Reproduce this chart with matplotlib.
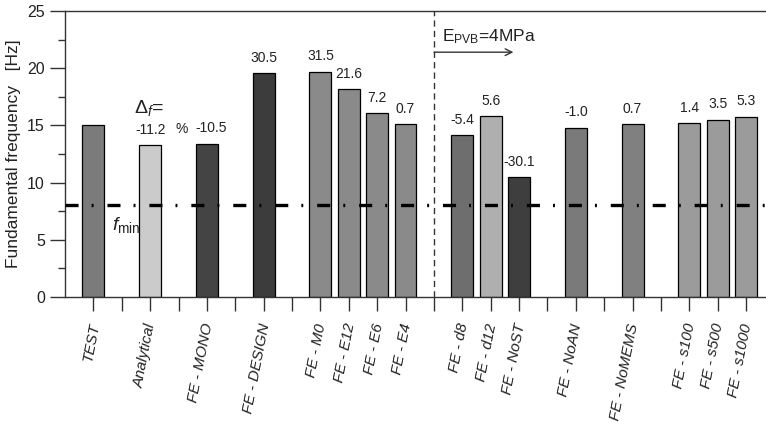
import matplotlib
matplotlib.use("Agg")
import matplotlib.pyplot as plt
import numpy as np

plt.rcParams['font.family'] = ['Liberation Sans', 'DejaVu Sans']
plt.rcParams['mathtext.fontset'] = 'custom'
plt.rcParams['mathtext.rm'] = 'Liberation Sans'
plt.rcParams['mathtext.it'] = 'Liberation Sans:italic'
plt.rcParams['lines.scale_dashes'] = False

# ---- data ----
categories = ["TEST", "Analytical", "FE - MONO", "FE - DESIGN",
              "FE - M0", "FE - E12", "FE - E6", "FE - E4",
              "FE - d8", "FE - d12", "FE - NoST",
              "FE - NoAN", "FE - NoMEMS",
              "FE - s100", "FE - s500", "FE - s1000"]
positions = [0, 2, 4, 6, 8, 9, 10, 11, 13, 14, 15, 17, 19, 21, 22, 23]
frequencies = [15.0, 13.3, 13.4, 19.55, 19.7, 18.2, 16.05, 15.08,
               14.17, 15.8, 10.45, 14.8, 15.08, 15.2, 15.5, 15.77]
delta_labels = ["", "-11.2", "-10.5", "30.5", "31.5", "21.6", "7.2", "0.7",
                "-5.4", "5.6", "-30.1", "-1.0", "0.7", "1.4", "3.5", "5.3"]
bar_colors = ["#7b7b7b", "#cbcbcb", "#444444", "#3c3c3c",
              "#8a8a8a", "#8a8a8a", "#8a8a8a", "#8a8a8a",
              "#6e6e6e", "#afafaf", "#3e3e3e",
              "#7a7a7a", "#808080",
              "#9b9b9b", "#9b9b9b", "#9b9b9b"]
f_min = 8.0
separator_pos = 12

fig = plt.figure(figsize=(7.66, 4.23), dpi=100)
ax = fig.add_axes([65/766, 1-297/423, 1-65/766, (297-11)/423])

ax.bar(positions, frequencies, width=0.77, color=bar_colors,
       edgecolor="black", linewidth=0.9, zorder=2)

# fmin line
ax.axhline(f_min, color="black", lw=2.4, zorder=3,
           dashes=(9.4, 9.4, 1.4, 10.0), dash_capstyle='butt')

# separator
ax.axvline(separator_pos, color="#333333", lw=1.0, dashes=(4.5, 3.0), zorder=1)

# value labels
for p, v, lab in zip(positions, frequencies, delta_labels):
    if lab:
        dx = 3 if lab == "-10.5" else 0
        ax.annotate(lab, (p, v), xytext=(dx, 11), textcoords="offset points",
                    ha="center", va="center", fontsize=10, color="#222222")

ax.text(3.12, 14.7, "%", ha="center", va="center", fontsize=10, color="#222222")
ax.text(1.95, 16.5, r"$\Delta_f$=", ha="center", va="center", fontsize=14,
        color="#222222")
ax.text(1.15, 6.3, r"$\mathit{f}_{\mathrm{min}}$", ha="center", va="center",
        fontsize=14, color="#222222")

# E_PVB annotation
ax.annotate("", xy=(14.8, 21.4), xytext=(12, 21.4),
            arrowprops=dict(arrowstyle="->", color="#333333", lw=1.0,
                            shrinkA=0, shrinkB=0, mutation_scale=12))
ax.text(12.3, 22.8, r"E$_{\mathrm{PVB}}$=4MPa", ha="left", va="center",
        fontsize=12.5, color="#222222")

# axes styling
ax.set_xlim(-1, 23.7)
ax.set_ylim(0, 25)
ax.spines['right'].set_visible(False)
for s in ['left', 'bottom', 'top']:
    ax.spines[s].set_color("#333333")
    ax.spines[s].set_linewidth(1.0)

ax.set_xticks(np.arange(0, 24))
ax.set_xticklabels([""] * 24)
ax.tick_params(axis='x', direction='out', length=10, width=1, color="#333333")
for p, lab in zip(positions, categories):
    ax.annotate(lab, (p, 0), xytext=(1, -19), textcoords="offset points",
                rotation=79, rotation_mode="anchor", ha="right", va="center",
                fontsize=11, style="italic", color="#222222",
                annotation_clip=False)

ax.set_yticks([0, 5, 10, 15, 20, 25])
ax.set_yticks(np.arange(2.5, 25, 5), minor=True)
ax.tick_params(axis='y', which='major', direction='out', length=10.5, width=1,
               color="#333333", labelsize=11.5, pad=4, labelcolor="#222222")
ax.tick_params(axis='y', which='minor', direction='out', length=5, width=1,
               color="#333333")

ax.set_ylabel("Fundamental frequency   [Hz]", fontsize=12.5, color="#222222")
ax.yaxis.set_label_coords(-44/701, 0.5)

fig.savefig("out.png", dpi=100)
